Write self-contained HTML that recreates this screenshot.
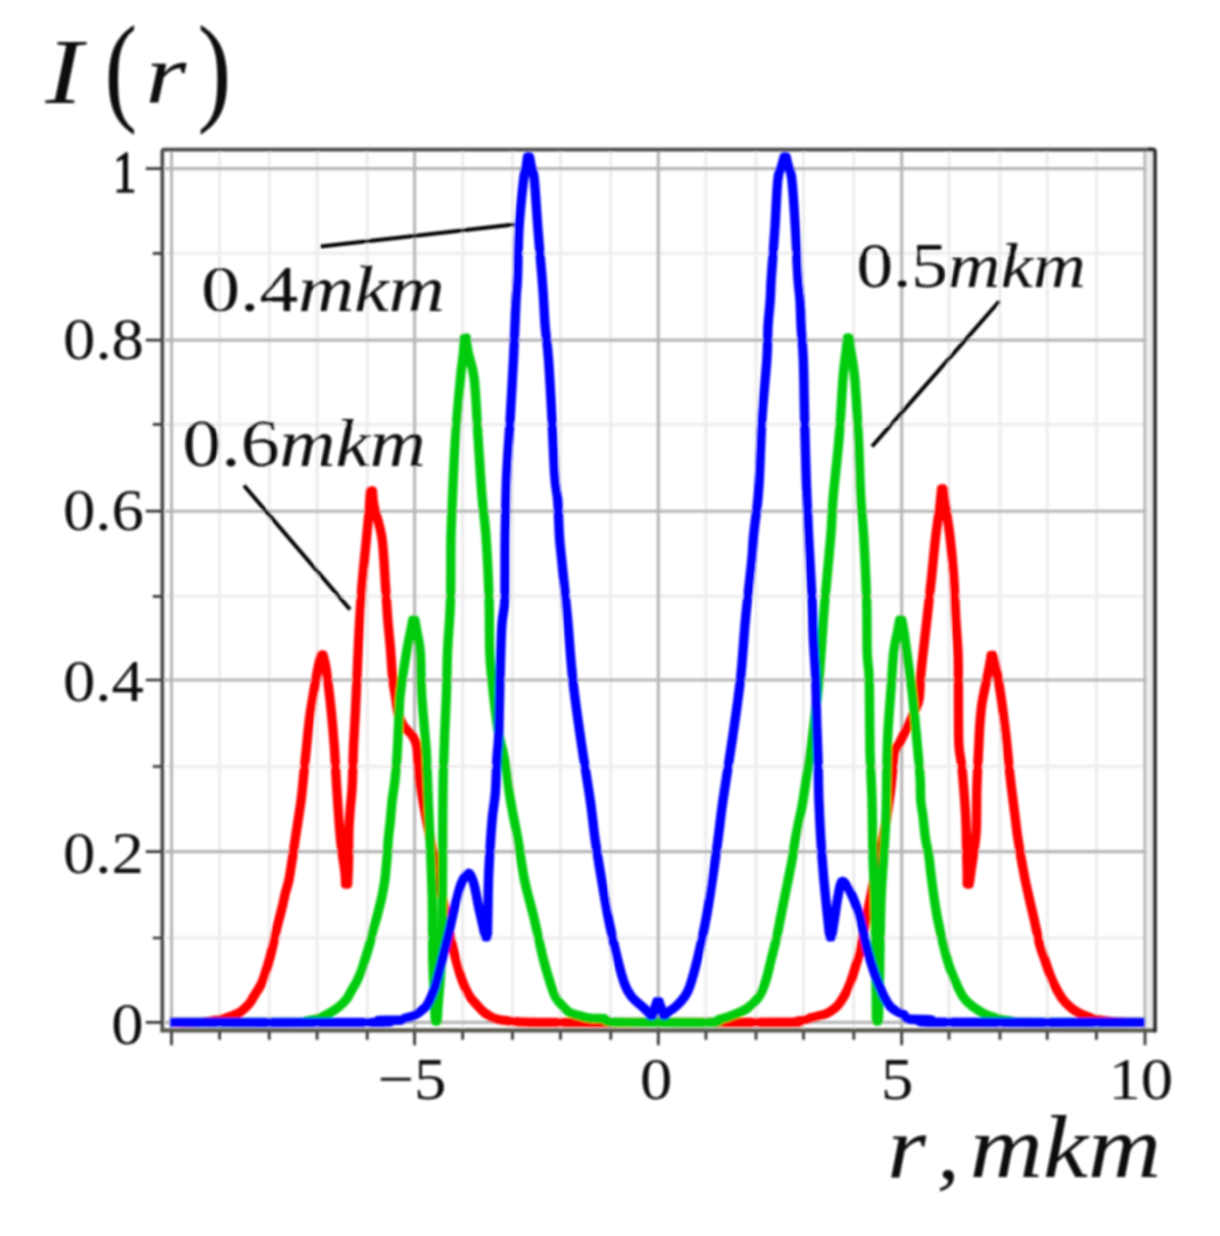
<!DOCTYPE html>
<html lang="en">
<head>
<meta charset="utf-8">
<title>I(r) intensity profiles</title>
<style>
html,body{margin:0;padding:0;background:#fff}
body{width:1220px;height:1236px;overflow:hidden}
svg{display:block}
</style>
</head>
<body>
<svg width="1220" height="1236" viewBox="0 0 1220 1236" font-family="'Liberation Serif', serif" fill="#0b0b0b">
<defs><filter id="soft" x="0" y="0" width="1220" height="1236" filterUnits="userSpaceOnUse"><feGaussianBlur stdDeviation="0.80"/></filter></defs>
<g filter="url(#soft)">
<path d="M219.6 151.5V1029.0M269.2 151.5V1029.0M317.1 151.5V1029.0M367.2 151.5V1029.0M462.7 151.5V1029.0M512.5 151.5V1029.0M560.5 151.5V1029.0M610.8 151.5V1029.0M705.9 151.5V1029.0M756.0 151.5V1029.0M803.5 151.5V1029.0M853.8 151.5V1029.0M949.0 151.5V1029.0M1000.0 151.5V1029.0M1047.2 151.5V1029.0M1096.4 151.5V1029.0M165.0 938.0H1153.0M165.0 766.5H1153.0M165.0 596.3H1153.0M165.0 424.4H1153.0M165.0 253.3H1153.0" stroke="#ededed" stroke-width="3.1" fill="none"/>
<path d="M171.5 151.5V1029.0M414.6 151.5V1029.0M658.3 151.5V1029.0M901.7 151.5V1029.0M1145.0 151.5V1029.0M165.0 1022.4H1153.0M165.0 851.6H1153.0M165.0 680.0H1153.0M165.0 511.2H1153.0M165.0 340.1H1153.0M165.0 168.6H1153.0" stroke="#b6b6b6" stroke-width="3.1" fill="none"/>
<path d="M171.0 1022.4C176.2 1022.4 195.0 1022.7 202.0 1022.4C209.0 1022.1 209.0 1021.5 213.0 1020.8C217.0 1020.1 221.7 1019.3 226.0 1018.0C230.3 1016.7 235.6 1014.7 238.8 1013.0C242.0 1011.3 243.2 1009.7 245.0 1008.0C246.8 1006.3 248.4 1004.9 249.8 1003.0C251.2 1001.1 251.8 999.7 253.7 996.5C255.6 993.3 259.4 987.9 261.5 983.6C263.6 979.3 264.6 974.9 266.0 970.6C267.4 966.3 268.7 962.0 269.9 957.7C271.1 953.4 272.1 949.0 273.1 944.7C274.1 940.4 274.9 936.1 275.9 931.8C276.9 927.5 278.1 923.1 279.2 918.8C280.3 914.5 281.5 910.2 282.5 905.9C283.5 901.6 284.3 897.2 285.4 892.9C286.5 888.6 287.8 885.6 288.9 880.0C290.0 874.4 291.2 865.8 292.3 859.0C293.4 852.2 294.2 845.8 295.2 839.3C296.2 832.8 297.1 826.8 298.2 819.7C299.2 812.7 300.3 807.5 301.5 797.0C302.7 786.5 304.1 770.2 305.5 757.0C306.9 743.8 308.2 729.2 309.6 718.0C311.0 706.8 312.6 698.3 314.0 690.0C315.4 681.7 316.8 673.8 318.0 668.0C319.2 662.2 320.5 657.2 321.0 655.0C321.3 655.0 322.7 655.0 323.0 655.0C323.5 657.2 324.8 660.0 326.0 668.0C327.2 676.0 329.0 690.2 330.4 703.0C331.8 715.8 333.1 731.0 334.2 745.0C335.2 759.0 335.8 772.9 336.7 787.0C337.6 801.1 338.8 818.9 339.7 829.5C340.6 840.1 340.9 843.5 341.8 850.5C342.7 857.5 344.3 866.0 344.9 871.6C345.5 877.2 345.5 881.9 345.6 884.0C345.9 884.0 347.3 884.0 347.6 884.0C347.8 880.3 348.3 871.0 348.5 862.0C348.7 853.0 348.6 839.0 348.9 830.0C349.2 821.0 349.8 815.1 350.3 808.0C350.8 800.9 351.6 797.9 352.1 787.4C352.7 776.9 353.0 758.2 353.6 745.3C354.2 732.4 355.0 720.5 355.5 710.0C356.0 699.5 356.2 694.2 356.8 682.0C357.4 669.8 358.0 652.5 358.8 636.7C359.6 621.0 360.5 603.9 361.8 587.5C363.1 571.1 365.2 552.0 366.5 538.4C367.8 524.8 368.9 513.9 369.5 506.0C370.1 498.1 370.2 493.5 370.4 491.0C370.7 491.0 372.1 491.0 372.4 491.0C372.7 493.5 372.4 498.1 374.0 506.0C375.6 513.9 380.1 524.8 382.0 538.4C383.9 552.0 384.6 573.9 385.6 587.5C386.6 601.1 387.0 609.9 387.8 620.0C388.6 630.1 389.6 638.2 390.4 648.0C391.2 657.8 391.8 670.3 392.7 678.7C393.6 687.1 394.9 692.7 395.8 698.4C396.7 704.1 396.7 708.4 398.0 713.0C399.3 717.6 401.3 722.3 403.6 726.0C405.9 729.7 409.9 731.8 412.0 735.0C414.1 738.2 415.4 739.8 416.5 745.0C417.6 750.2 417.7 759.3 418.3 766.0C418.9 772.7 418.7 776.5 420.0 785.0C421.3 793.5 424.0 806.5 426.0 817.0C428.0 827.5 430.0 837.8 432.0 848.0C434.0 858.2 436.0 868.5 438.0 878.0C440.0 887.5 442.0 895.5 444.0 905.0C446.0 914.5 448.0 925.8 450.0 935.0C452.0 944.2 454.0 952.5 456.0 960.0C458.0 967.5 459.9 974.2 462.0 980.0C464.1 985.8 466.3 990.7 468.7 994.8C471.1 998.9 474.0 1001.6 476.6 1004.6C479.2 1007.6 481.4 1010.2 484.4 1012.5C487.3 1014.8 489.7 1016.9 494.3 1018.4C498.9 1019.9 504.4 1020.6 512.0 1021.3C519.6 1022.0 515.7 1022.2 540.0 1022.4C564.3 1022.6 616.7 1022.4 658.0 1022.4C699.3 1022.4 764.8 1022.5 788.0 1022.3C811.2 1022.1 794.2 1021.8 797.0 1021.3C799.8 1020.8 802.5 1020.2 805.0 1019.6C807.5 1019.0 809.5 1018.3 812.0 1017.6C814.5 1016.9 817.4 1016.4 820.0 1015.6C822.6 1014.8 824.8 1014.7 827.7 1013.0C830.6 1011.3 834.7 1008.8 837.6 1005.6C840.5 1002.4 843.1 998.1 845.4 993.8C847.7 989.5 849.5 984.9 851.3 980.0C853.1 975.1 854.7 969.2 856.2 964.3C857.7 959.4 858.9 956.2 860.2 950.5C861.5 944.8 862.5 937.6 864.0 930.0C865.5 922.4 867.2 914.2 869.0 905.0C870.8 895.8 873.0 884.5 875.0 875.0C877.0 865.5 879.2 857.0 881.0 848.0C882.8 839.0 884.5 829.8 886.0 821.0C887.5 812.2 888.9 803.5 890.0 795.0C891.1 786.5 892.0 777.2 892.8 770.0C893.5 762.8 893.3 756.7 894.5 752.0C895.7 747.3 897.5 747.0 900.0 742.0C902.5 737.0 907.1 727.7 909.8 722.0C912.5 716.3 914.5 711.9 916.0 708.0C917.5 704.1 918.3 704.0 919.1 698.7C919.9 693.4 920.1 683.0 920.7 676.0C921.3 669.0 921.6 666.2 922.7 656.4C923.8 646.6 925.7 630.1 927.2 617.0C928.7 603.9 930.1 590.8 931.5 577.7C932.9 564.6 934.1 550.5 935.5 538.4C936.9 526.3 939.0 513.2 940.0 505.0C941.0 496.8 941.3 491.7 941.6 489.0C941.9 489.0 943.3 489.0 943.6 489.0C943.9 491.7 944.4 496.8 945.5 505.0C946.6 513.2 948.8 526.3 950.2 538.4C951.6 550.5 952.9 564.6 953.8 577.7C954.7 590.8 955.0 603.9 955.7 617.0C956.4 630.1 957.7 642.1 958.1 656.4C958.5 670.7 958.3 688.2 958.4 703.0C958.5 717.8 958.3 734.2 958.9 745.0C959.5 755.8 961.0 757.5 962.0 768.0C963.0 778.5 964.5 797.8 965.2 808.0C965.9 818.2 966.0 822.4 966.2 829.5C966.4 836.6 966.4 843.5 966.6 850.5C966.8 857.5 967.1 866.0 967.2 871.6C967.3 877.2 967.2 881.9 967.2 884.0C967.5 884.0 968.9 884.0 969.2 884.0C969.5 881.9 970.1 877.2 970.9 871.6C971.7 866.0 973.1 857.5 974.0 850.5C974.9 843.5 975.8 840.0 976.3 829.5C976.8 819.0 976.5 801.4 976.9 787.4C977.3 773.4 978.3 755.8 978.8 745.3C979.3 734.8 979.4 731.2 979.9 724.2C980.4 717.2 981.0 710.2 982.0 703.2C983.0 696.2 984.9 688.5 986.2 682.0C987.5 675.5 989.0 668.4 989.8 664.0C990.6 659.6 990.9 656.8 991.1 655.4C991.4 655.4 992.8 655.4 993.1 655.4C993.7 657.8 995.1 662.8 996.5 670.0C997.9 677.2 999.7 687.4 1001.3 698.7C1002.9 710.0 1004.7 724.9 1006.2 738.0C1007.7 751.1 1008.7 764.3 1010.2 777.4C1011.7 790.5 1013.8 806.4 1015.1 816.7C1016.4 827.0 1016.4 829.0 1018.0 839.3C1019.6 849.6 1022.3 865.6 1024.9 878.7C1027.5 891.8 1031.3 907.0 1033.8 918.0C1036.3 929.0 1038.0 938.1 1039.7 944.7C1041.4 951.3 1042.6 953.3 1044.1 957.6C1045.6 961.9 1046.9 966.3 1048.5 970.6C1050.1 974.9 1051.7 979.3 1053.7 983.6C1055.8 987.9 1058.8 993.3 1060.8 996.5C1062.8 999.7 1064.0 1000.9 1066.0 1003.0C1068.0 1005.1 1070.4 1007.5 1073.1 1009.4C1075.8 1011.3 1078.5 1013.0 1082.2 1014.6C1085.9 1016.2 1090.4 1017.9 1095.0 1019.0C1099.6 1020.1 1105.2 1020.8 1110.0 1021.3C1114.8 1021.8 1118.2 1022.0 1124.0 1022.2C1129.8 1022.4 1141.5 1022.4 1145.0 1022.4" stroke="#ff0000" stroke-width="9.4" fill="none" stroke-linejoin="round" stroke-linecap="butt"/>
<path d="M171.0 1022.4C191.8 1022.4 273.5 1022.6 296.0 1022.4C318.5 1022.2 302.3 1021.9 306.0 1021.2C309.7 1020.6 314.2 1019.8 318.0 1018.5C321.8 1017.2 325.5 1015.4 329.0 1013.5C332.5 1011.6 335.9 1009.3 338.8 1006.9C341.7 1004.5 344.4 1001.9 346.6 999.1C348.8 996.3 350.1 993.0 351.8 990.0C353.5 987.0 355.4 984.2 357.0 981.0C358.6 977.8 360.2 974.1 361.5 970.6C362.8 967.1 363.6 963.8 364.7 960.3C365.8 956.8 367.0 953.4 368.0 949.9C369.0 946.4 370.0 943.0 370.9 939.5C371.8 936.0 372.4 932.7 373.3 929.2C374.2 925.8 375.4 922.2 376.4 918.8C377.3 915.3 378.1 912.0 379.0 908.5C379.9 905.0 380.8 901.6 381.6 898.1C382.4 894.6 383.0 891.0 383.6 887.8C384.2 884.6 384.4 883.7 385.0 878.7C385.6 873.7 386.4 864.6 387.0 858.0C387.6 851.4 387.7 845.8 388.3 839.3C388.9 832.8 389.9 825.2 390.5 818.7C391.1 812.2 391.4 806.6 392.2 800.0C393.0 793.4 394.2 788.0 395.1 779.3C396.0 770.6 396.9 758.7 397.5 748.0C398.1 737.3 398.5 724.4 399.0 715.0C399.5 705.6 399.2 702.2 400.5 691.8C401.8 681.4 404.8 662.5 406.5 652.5C408.2 642.5 409.4 637.4 410.5 632.0C411.6 626.6 412.4 622.0 412.8 620.0C413.1 620.0 414.5 620.0 414.8 620.0C415.2 622.0 416.1 626.6 417.0 632.0C417.9 637.4 419.6 642.5 420.3 652.5C421.1 662.5 420.8 678.7 421.5 691.8C422.2 704.9 423.8 720.1 424.6 731.0C425.5 741.9 426.0 745.0 426.6 757.4C427.2 769.8 427.9 790.2 428.5 805.6C429.1 821.0 429.9 834.3 430.5 850.0C431.1 865.7 431.9 881.7 432.3 900.0C432.7 918.3 432.4 943.3 432.8 960.0C433.2 976.7 434.1 989.8 434.5 1000.0C434.9 1010.2 435.1 1017.5 435.2 1021.0C435.5 1021.0 436.9 1021.0 437.2 1021.0C437.4 1017.5 437.9 1007.7 438.5 1000.0C439.1 992.3 439.9 986.7 440.5 975.0C441.1 963.3 441.7 945.8 442.0 930.0C442.3 914.2 442.4 896.7 442.5 880.0C442.6 863.3 442.6 846.8 442.7 830.0C442.8 813.2 442.9 793.0 443.2 779.3C443.4 765.6 443.9 756.0 444.2 748.0C444.5 740.0 444.4 740.4 444.8 731.0C445.2 721.6 446.1 704.9 446.5 691.8C446.9 678.7 446.9 666.8 447.5 652.5C448.1 638.2 449.8 619.8 450.3 606.0C450.9 592.2 450.7 581.7 450.8 570.0C450.9 558.3 450.7 548.2 451.0 536.0C451.3 523.8 451.8 513.1 452.5 496.7C453.2 480.3 454.2 457.4 455.5 437.7C456.8 418.0 459.1 393.0 460.4 378.7C461.7 364.4 462.9 358.8 463.5 352.0C464.1 345.2 464.2 340.3 464.3 338.0C464.6 338.0 466.0 338.0 466.3 338.0C466.6 340.3 466.7 345.2 468.0 352.0C469.3 358.8 472.5 364.4 474.2 378.7C475.9 393.0 476.8 418.0 478.1 437.7C479.4 457.4 480.7 480.3 482.0 496.7C483.3 513.1 484.8 518.8 486.0 536.0C487.2 553.2 488.5 580.6 489.1 600.0C489.7 619.4 489.2 637.5 489.8 652.5C490.4 667.5 491.6 677.1 493.0 690.0C494.4 702.9 496.3 719.7 498.0 730.0C499.7 740.3 501.7 746.0 503.0 752.0C504.3 758.0 504.7 758.2 505.9 766.2C507.1 774.2 508.4 787.8 510.4 800.0C512.4 812.2 515.5 826.0 517.9 839.3C520.2 852.6 521.8 866.9 524.5 880.0C527.2 893.1 530.9 905.1 534.0 918.0C537.1 930.9 540.5 947.6 542.9 957.4C545.3 967.2 546.3 970.5 548.4 977.0C550.5 983.5 552.8 991.8 555.3 996.7C557.8 1001.6 560.7 1004.0 563.1 1006.6C565.5 1009.2 566.9 1011.0 569.5 1012.5C572.1 1014.0 575.5 1014.5 578.9 1015.5C582.3 1016.5 585.6 1017.7 590.0 1018.2C594.4 1018.8 601.5 1018.2 605.0 1018.8C608.5 1019.4 602.2 1021.4 611.0 1022.0C619.8 1022.6 641.0 1022.4 658.0 1022.4C675.0 1022.4 702.8 1022.7 713.0 1022.2C723.2 1021.7 716.3 1020.5 719.0 1019.5C721.7 1018.5 724.6 1018.2 729.3 1016.4C734.0 1014.6 742.1 1011.8 747.0 1008.5C751.9 1005.2 755.8 1001.3 758.9 996.7C762.0 992.1 763.7 986.9 765.7 981.0C767.7 975.1 768.9 968.5 770.7 961.3C772.5 954.1 775.0 944.9 776.6 937.7C778.2 930.5 779.2 924.5 780.5 918.0C781.8 911.5 783.1 904.9 784.4 898.4C785.7 891.9 787.1 885.3 788.4 878.7C789.7 872.1 791.1 865.6 792.3 859.0C793.4 852.4 794.1 845.8 795.3 839.3C796.4 832.8 797.9 826.2 799.2 819.7C800.5 813.2 801.4 810.5 803.1 800.0C804.8 789.5 808.0 767.0 809.5 757.0C811.0 747.0 810.6 751.2 812.0 740.0C813.4 728.8 816.3 706.8 818.0 690.0C819.7 673.2 820.9 654.3 822.0 639.3C823.1 624.3 823.4 617.2 824.9 600.0C826.4 582.8 829.4 553.2 830.8 536.0C832.2 518.8 831.8 513.1 833.2 496.7C834.6 480.3 837.5 457.4 839.1 437.7C840.7 418.0 841.9 393.0 843.0 378.7C844.1 364.4 845.2 358.8 846.0 352.0C846.8 345.2 847.2 340.3 847.5 338.0C847.8 338.0 849.2 338.0 849.5 338.0C849.8 340.3 850.1 345.2 851.0 352.0C851.9 358.8 853.6 364.4 854.8 378.7C856.0 393.0 857.4 418.0 858.4 437.7C859.4 457.4 859.8 480.3 860.7 496.7C861.6 513.1 862.7 518.8 863.7 536.0C864.7 553.2 866.0 580.6 866.6 600.0C867.2 619.4 866.8 639.4 867.2 652.5C867.6 665.6 868.8 665.6 869.2 678.7C869.6 691.8 869.6 717.9 869.8 731.0C870.0 744.1 869.8 745.9 870.2 757.4C870.6 768.9 871.5 783.1 872.0 800.0C872.5 816.9 872.5 842.3 873.0 859.0C873.5 875.7 874.2 879.8 874.7 900.0C875.2 920.2 875.7 959.8 876.0 980.0C876.3 1000.2 876.3 1014.2 876.4 1021.0C876.7 1021.0 878.1 1021.0 878.4 1021.0C878.6 1014.2 879.1 1000.2 879.5 980.0C879.9 959.8 880.3 920.2 881.0 900.0C881.7 879.8 882.7 873.2 883.5 859.0C884.3 844.8 885.4 831.9 886.0 815.0C886.6 798.1 886.7 771.4 887.0 757.4C887.3 743.4 887.4 741.9 888.0 731.0C888.6 720.1 889.8 704.9 890.8 691.8C891.8 678.7 892.6 662.5 893.7 652.5C894.8 642.5 896.5 637.4 897.5 632.0C898.5 626.6 899.3 622.0 899.7 620.0C900.0 620.0 901.4 620.0 901.7 620.0C902.1 622.0 903.1 626.6 904.0 632.0C904.9 637.4 905.4 642.5 906.8 652.5C908.1 662.5 910.6 678.7 912.1 691.8C913.6 704.9 914.7 716.7 916.0 731.0C917.3 745.3 919.3 765.9 920.1 777.4C920.9 788.9 920.2 793.5 920.7 800.0C921.2 806.5 922.2 810.2 923.0 816.7C923.8 823.2 924.6 832.8 925.6 839.3C926.6 845.8 927.9 849.4 928.9 856.0C929.9 862.6 930.1 868.4 931.5 878.7C932.9 889.0 934.9 904.9 937.4 918.0C939.9 931.1 943.9 947.6 946.6 957.4C949.3 967.2 950.8 970.5 953.5 977.0C956.2 983.5 959.8 991.8 963.0 996.7C966.2 1001.6 969.0 1003.7 972.8 1006.6C976.6 1009.5 981.1 1012.3 985.6 1014.4C990.1 1016.5 995.9 1017.9 1000.0 1019.0C1004.1 1020.1 1005.0 1020.4 1010.0 1021.0C1015.0 1021.6 1007.5 1022.2 1030.0 1022.4C1052.5 1022.6 1125.8 1022.4 1145.0 1022.4" stroke="#00cc10" stroke-width="9.4" fill="none" stroke-linejoin="round" stroke-linecap="butt"/>
<path d="M169.8 1022.4C204.0 1022.4 340.2 1022.7 375.0 1022.4C409.8 1022.1 374.3 1020.8 378.5 1020.4C382.7 1020.0 395.7 1020.5 400.0 1020.2C404.3 1019.9 402.7 1019.0 404.5 1018.4C406.3 1017.8 409.0 1017.5 411.0 1016.8C413.0 1016.1 414.8 1015.2 416.5 1014.2C418.2 1013.2 419.7 1012.1 421.5 1010.5C423.3 1008.9 425.3 1008.2 427.4 1004.6C429.5 1001.0 432.3 994.5 434.3 988.9C436.3 983.3 437.6 977.4 439.2 971.2C440.8 965.0 442.5 958.1 444.1 951.5C445.7 944.9 447.5 938.0 449.0 931.8C450.5 925.6 451.7 919.7 453.0 914.1C454.3 908.5 455.6 903.3 456.9 898.4C458.2 893.5 459.5 888.2 460.8 884.6C462.1 881.0 463.5 878.6 464.8 876.7C466.1 874.8 467.6 873.2 468.7 873.2C469.8 873.2 470.5 874.8 471.5 877.0C472.5 879.2 473.4 881.7 474.6 886.6C475.8 891.5 477.2 900.0 478.5 906.2C479.8 912.4 481.4 918.9 482.5 924.0C483.6 929.1 484.9 934.6 485.4 936.7C485.7 936.7 487.1 936.7 487.4 936.7C487.5 931.4 487.8 916.1 488.0 905.0C488.2 893.9 488.2 884.2 488.9 870.0C489.6 855.8 491.0 832.9 492.1 820.0C493.2 807.1 494.6 803.0 495.4 792.5C496.2 782.0 496.4 766.6 497.0 757.0C497.6 747.4 498.2 748.0 498.7 735.0C499.2 722.0 499.5 696.9 500.0 678.7C500.5 660.5 501.0 638.5 501.8 626.0C502.6 613.5 504.1 611.7 504.6 604.0C505.1 596.3 504.9 591.3 505.0 580.0C505.1 568.7 504.9 553.2 505.2 536.0C505.5 518.8 505.8 496.7 506.6 477.0C507.4 457.3 509.1 437.7 510.2 418.0C511.3 398.3 512.5 378.7 513.5 359.0C514.5 339.3 515.3 313.6 516.0 300.0C516.7 286.4 517.0 289.4 517.5 277.5C518.0 265.6 518.0 244.8 519.0 228.4C520.0 212.0 522.4 189.8 523.6 179.2C524.9 168.6 525.9 168.7 526.5 165.0C527.1 161.3 527.3 158.3 527.5 157.0C527.8 157.0 529.2 157.0 529.5 157.0C529.8 158.3 530.2 161.3 531.0 165.0C531.8 168.7 533.1 168.6 534.3 179.2C535.4 189.8 536.6 212.0 537.9 228.4C539.2 244.8 541.0 265.6 542.0 277.5C543.0 289.4 543.1 291.8 543.6 300.0C544.1 308.2 544.4 316.9 545.2 326.7C546.0 336.5 547.4 343.8 548.5 359.0C549.6 374.2 550.9 398.3 551.9 418.0C552.9 437.7 553.8 463.3 554.8 477.0C555.8 490.7 556.9 490.2 557.7 500.0C558.5 509.8 558.8 526.2 559.4 536.0C560.0 545.8 560.2 545.3 561.6 559.0C563.0 572.7 565.7 598.3 567.5 618.0C569.3 637.7 570.4 657.3 572.5 677.0C574.6 696.7 577.3 715.5 580.3 736.0C583.2 756.5 587.7 782.8 590.2 800.0C592.7 817.2 593.2 826.2 595.1 839.3C597.0 852.4 599.2 865.6 601.4 878.7C603.6 891.8 605.7 904.9 608.3 918.0C610.9 931.1 614.4 946.4 617.1 957.4C619.8 968.4 622.2 977.5 624.6 984.0C627.0 990.5 628.5 992.9 631.5 996.7C634.5 1000.5 639.5 1004.0 642.3 1006.6C645.1 1009.2 647.1 1011.0 648.5 1012.5C649.9 1014.0 650.2 1015.0 650.5 1015.5C650.8 1015.5 652.2 1015.5 652.5 1015.5C653.2 1013.2 656.2 1003.8 657.0 1001.5C657.3 1001.5 658.7 1001.5 659.0 1001.5C659.8 1003.8 662.8 1012.8 663.5 1015.0C663.8 1015.0 665.2 1015.0 665.5 1015.0C665.8 1014.6 665.8 1013.9 667.5 1012.5C669.2 1011.1 672.9 1009.2 675.7 1006.6C678.6 1004.0 682.2 1000.1 684.6 996.7C687.0 993.3 687.7 992.5 689.9 986.0C692.1 979.5 695.1 968.7 697.8 957.4C700.5 946.1 703.8 931.1 706.2 918.0C708.7 904.9 710.5 891.8 712.5 878.7C714.5 865.6 716.2 852.4 718.0 839.3C719.8 826.2 720.5 817.2 723.0 800.0C725.5 782.8 729.8 756.5 732.8 736.0C735.8 715.5 738.6 696.7 740.7 677.0C742.8 657.3 743.7 637.7 745.6 618.0C747.5 598.3 750.6 572.7 751.9 559.0C753.2 545.3 752.5 545.8 753.5 536.0C754.5 526.2 756.8 509.8 757.8 500.0C758.8 490.2 758.7 490.7 759.4 477.0C760.1 463.3 760.8 437.7 762.0 418.0C763.2 398.3 765.9 374.2 766.9 359.0C767.9 343.8 767.5 336.5 768.0 326.7C768.5 316.9 769.7 308.2 770.2 300.0C770.8 291.8 770.5 289.4 771.3 277.5C772.1 265.6 773.8 244.8 774.9 228.4C776.0 212.0 776.7 189.8 777.9 179.2C779.1 168.6 781.0 168.7 782.0 165.0C783.0 161.3 783.8 158.3 784.2 157.0C784.5 157.0 785.9 157.0 786.2 157.0C786.5 158.3 787.1 161.3 788.0 165.0C788.9 168.7 790.6 168.6 791.8 179.2C793.0 189.8 794.4 212.0 795.4 228.4C796.4 244.8 797.1 265.6 797.9 277.5C798.7 289.4 799.5 291.8 800.0 300.0C800.5 308.2 800.6 316.9 801.1 326.7C801.6 336.5 802.7 343.8 803.3 359.0C803.9 374.2 804.1 398.3 804.6 418.0C805.1 437.7 805.5 457.3 806.2 477.0C806.9 496.7 807.6 515.5 808.6 536.0C809.6 556.5 811.3 582.8 812.1 600.0C812.9 617.2 812.8 626.2 813.4 639.3C814.0 652.4 815.2 665.6 815.7 678.7C816.2 691.8 816.2 704.9 816.6 718.0C817.0 731.1 817.6 743.7 818.0 757.4C818.4 771.1 818.4 786.4 818.9 800.0C819.4 813.6 820.0 826.2 820.8 839.3C821.6 852.4 822.8 867.2 823.8 878.7C824.8 890.2 825.7 898.5 826.7 908.2C827.7 917.9 829.2 932.0 829.7 936.7C830.0 936.7 831.4 936.7 831.7 936.7C832.2 933.6 833.6 924.4 834.6 918.0C835.6 911.6 836.5 904.4 837.6 898.4C838.8 892.4 839.9 884.0 841.5 882.0C843.1 880.0 845.4 883.9 847.4 886.6C849.4 889.3 851.3 893.7 853.3 898.4C855.3 903.1 857.5 909.4 859.2 915.0C860.9 920.6 861.8 925.8 863.3 932.0C864.8 938.2 866.2 945.3 868.0 952.0C869.8 958.7 872.1 966.3 874.0 972.0C875.9 977.7 877.7 981.7 879.5 986.0C881.3 990.3 882.9 994.5 884.8 998.0C886.7 1001.5 888.4 1004.6 890.7 1007.0C893.0 1009.4 896.3 1011.0 898.5 1012.3C900.7 1013.6 902.3 1013.7 904.0 1014.8C905.7 1015.9 904.0 1018.2 908.5 1019.0C913.0 1019.8 926.5 1019.2 931.0 1019.8C935.5 1020.3 899.8 1021.9 935.5 1022.3C971.2 1022.7 1110.1 1022.4 1145.0 1022.4" stroke="#0000ff" stroke-width="9.4" fill="none" stroke-linejoin="round" stroke-linecap="butt"/>
<rect x="1146.5" y="151" width="7" height="878" fill="#eeeeee"/>
<path d="M162.3 1032.3V151.8Q162.3 149.6 164.5 149.6H1151" stroke="#4a4a4a" stroke-width="3.7" fill="none"/>
<path d="M160.6 1030.4H1156" stroke="#58584e" stroke-width="4.3" fill="none"/>
<path d="M1148 149.6H1152.4Q1154.8 149.6 1154.8 152V1032.3" stroke="#262626" stroke-width="4.0" fill="none"/>
<path d="M145.8 1022.4H161M152.8 938.0H161M145.8 851.6H161M152.8 766.5H161M145.8 680.0H161M152.8 596.3H161M145.8 511.2H161M152.8 424.4H161M145.8 340.1H161M152.8 253.3H161M145.8 168.6H161M171.5 1032V1045.2M219.6 1032V1039.8M269.2 1032V1039.8M317.1 1032V1039.8M367.2 1032V1039.8M414.6 1032V1045.2M462.7 1032V1039.8M512.5 1032V1039.8M560.5 1032V1039.8M610.8 1032V1039.8M658.3 1032V1045.2M705.9 1032V1039.8M756.0 1032V1039.8M803.5 1032V1039.8M853.8 1032V1039.8M901.7 1032V1045.2M949.0 1032V1039.8M1000.0 1032V1039.8M1047.2 1032V1039.8M1096.4 1032V1039.8M1145.0 1032V1045.2" stroke="#333333" stroke-width="2.7" fill="none"/>
<path d="M320.5 246.5L514 224.5M244 485.5L350 609.5M999.5 301L872 446.5" stroke="#050505" stroke-width="4.0" fill="none" stroke-linecap="butt"/>
<text id="tI" transform="translate(45.60 102.80) scale(1.1108 0.9231)" font-size="100" font-style="italic">I</text>
<text id="tp1" transform="translate(104.58 108.55) scale(0.9808 1.2022)" font-size="100">(</text>
<text id="tr" transform="translate(145.61 102.80) scale(1.0486 0.8553)" font-size="100" font-style="italic">r</text>
<text id="tp2" transform="translate(197.44 108.55) scale(1.0192 1.2022)" font-size="100">)</text>
<text id="y10" transform="translate(113.26 191.60) scale(0.4600 0.6015)" font-size="100" stroke="#0b0b0b" stroke-width="1.4" vector-effect="non-scaling-stroke">1</text>
<text id="y08" transform="translate(63.11 358.80) scale(0.6470 0.6015)" font-size="100">0.8</text>
<text id="y06" transform="translate(62.91 529.80) scale(0.6470 0.6015)" font-size="100">0.6</text>
<text id="y04" transform="translate(62.91 701.30) scale(0.6470 0.6015)" font-size="100">0.4</text>
<text id="y02" transform="translate(62.91 872.80) scale(0.6470 0.6015)" font-size="100">0.2</text>
<text id="y00" transform="translate(111.31 1044.10) scale(0.6470 0.6015)" font-size="100">0</text>
<text id="xm5" transform="translate(377.56 1099.40) scale(0.6470 0.6015)" font-size="100">−5</text>
<text id="x0" transform="translate(640.02 1098.80) scale(0.6470 0.6015)" font-size="100">0</text>
<text id="x5" transform="translate(880.88 1099.40) scale(0.6470 0.6015)" font-size="100">5</text>
<text id="x10" transform="translate(1108.53 1098.80) scale(0.6470 0.6015)" font-size="100">10</text>
<text id="l04" transform="translate(201.30 311.27) scale(0.7754 0.6648)" font-size="100">0.4<tspan font-style="italic">mkm</tspan></text>
<text id="l06" transform="translate(182.50 465.66) scale(0.7754 0.6690)" font-size="100">0.6<tspan font-style="italic">mkm</tspan></text>
<text id="l05" transform="translate(856.38 286.55) scale(0.7311 0.6239)" font-size="100">0.5<tspan font-style="italic">mkm</tspan></text>
<text id="xlr" transform="translate(887.31 1176.80) scale(0.9971 0.8830)" font-size="100" font-style="italic">r</text>
<text id="xlc" transform="translate(936.88 1179.32) scale(0.9062 0.8320)" font-size="100" font-style="italic">, </text>
<text id="xlm" transform="translate(969.85 1176.80) scale(1.0128 0.8783)" font-size="100" font-style="italic">mkm</text>
</g>
</svg>
</body>
</html>
